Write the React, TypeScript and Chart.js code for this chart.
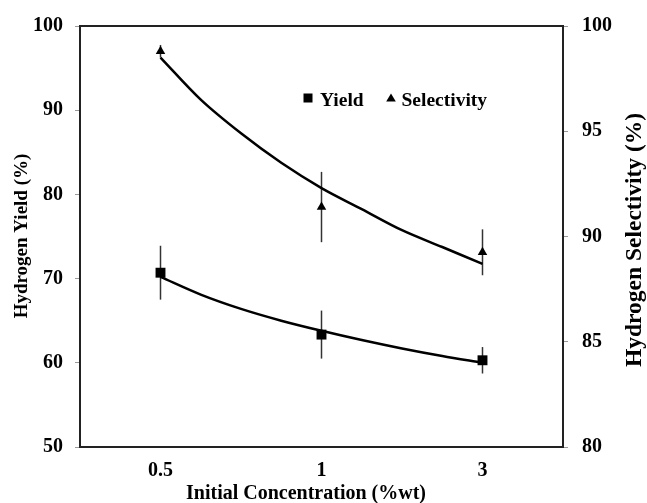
import React, { useEffect, useRef } from 'react';
import { Chart, registerables } from 'chart.js';

Chart.register(...registerables);

// ---- data ----
const xLabels = ['0.5', '1', '3'];
const xIndex = [1, 2, 3];
const yieldValues = [70.7, 63.35, 60.3];
const yieldErrors = [3.2, 2.85, 1.57];
const selectivityValues = [98.8, 91.4, 89.25];
const selectivityErrors = [0.3, 1.67, 1.09];
// trend lines
const fitX = [1, 1.25, 1.5, 1.75, 2, 2.25, 2.5, 2.75, 3];
const yieldFit = [70.2, 68.1, 66.4, 65.0, 63.8, 62.7, 61.7, 60.8, 60.0];
const selectivityFit = [98.5, 96.5, 94.9, 93.5, 92.3, 91.3, 90.3, 89.5, 88.7];
const yLeftTicks = [50, 60, 70, 80, 90, 100];
const yRightTicks = [80, 85, 90, 95, 100];
const xTitle = 'Initial Concentration (%wt)';
const yLeftTitle = 'Hydrogen Yield (%)';
const yRightTitle = 'Hydrogen Selectivity (%)';

const FONT = '"Liberation Serif", "Times New Roman", serif';

export default function App() {
  const ref = useRef<HTMLCanvasElement>(null);

  useEffect(() => {
    if (!ref.current) return;

    const errorBars = {
      id: 'errorBars',
      beforeDatasetsDraw(chart: any) {
        const ctx = chart.ctx;
        const xs = chart.scales.x;
        ctx.save();
        ctx.strokeStyle = '#333';
        ctx.lineWidth = 1.5;
        const draw = (vals: number[], errs: number[], scale: any) => {
          vals.forEach((v, i) => {
            const px = xs.getPixelForValue(xIndex[i]);
            ctx.beginPath();
            ctx.moveTo(px, scale.getPixelForValue(v + errs[i]));
            ctx.lineTo(px, scale.getPixelForValue(v - errs[i]));
            ctx.stroke();
          });
        };
        draw(yieldValues, yieldErrors, chart.scales.y);
        draw(selectivityValues, selectivityErrors, chart.scales.y1);
        ctx.restore();
      },
    };

    const decor = {
      id: 'decor',
      afterDraw(chart: any) {
        const ctx = chart.ctx;
        const a = chart.chartArea;
        ctx.save();
        // frame top line
        ctx.strokeStyle = '#222';
        ctx.lineWidth = 2;
        ctx.beginPath();
        ctx.moveTo(a.left, a.top);
        ctx.lineTo(a.right, a.top);
        ctx.stroke();

        ctx.fillStyle = '#000';
        ctx.textAlign = 'center';
        ctx.textBaseline = 'middle';
        // x title
        ctx.font = `bold 20px ${FONT}`;
        ctx.fillText(xTitle, a.left + 226, a.bottom + 47);
        // left title
        ctx.save();
        ctx.translate(a.left - 58, a.top + 210);
        ctx.rotate(-Math.PI / 2);
        ctx.font = `bold 19px ${FONT}`;
        ctx.fillText(yLeftTitle, 0, 0);
        ctx.restore();
        // right title
        ctx.save();
        ctx.translate(a.right + 72, a.top + 214);
        ctx.rotate(-Math.PI / 2);
        ctx.font = `bold 23.5px ${FONT}`;
        ctx.fillText(yRightTitle, 0, 0);
        ctx.restore();

        // legend
        ctx.font = `bold 19.5px ${FONT}`;
        ctx.textAlign = 'left';
        ctx.textBaseline = 'alphabetic';
        const ly = a.top + 72;
        let lx = a.left + 228;
        ctx.fillRect(lx - 4.5, ly - 4.5, 9, 9);
        ctx.fillText(chart.data.datasets[0].label, lx + 12, ly + 7.5);
        lx = a.left + 311;
        ctx.beginPath();
        ctx.moveTo(lx, ly - 4.5);
        ctx.lineTo(lx + 4.8, ly + 3.5);
        ctx.lineTo(lx - 4.8, ly + 3.5);
        ctx.closePath();
        ctx.fill();
        ctx.fillText(chart.data.datasets[1].label, lx + 10.5, ly + 7.5);
        ctx.restore();
      },
    };

    const tickFont = { family: FONT, size: 20, weight: 'bold' as const };

    const chart = new Chart(ref.current, {
      type: 'line',
      data: {
        datasets: [
          {
            label: 'Yield',
            data: xIndex.map((x, i) => ({ x, y: yieldValues[i] })),
            yAxisID: 'y',
            showLine: false,
            pointStyle: 'rect',
            pointRadius: 7,
            backgroundColor: '#000',
            borderColor: '#000',
            borderWidth: 0,
            order: 0,
          },
          {
            label: 'Selectivity',
            data: xIndex.map((x, i) => ({ x, y: selectivityValues[i] })),
            yAxisID: 'y1',
            showLine: false,
            pointStyle: 'triangle',
            pointRadius: 5.5,
            backgroundColor: '#000',
            borderColor: '#000',
            borderWidth: 0,
            order: 0,
          },
          {
            label: 'Yield fit',
            data: fitX.map((x, i) => ({ x, y: yieldFit[i] })),
            yAxisID: 'y',
            pointRadius: 0,
            borderColor: '#000',
            borderWidth: 2.5,
            cubicInterpolationMode: 'monotone',
            fill: false,
            order: 1,
          },
          {
            label: 'Selectivity fit',
            data: fitX.map((x, i) => ({ x, y: selectivityFit[i] })),
            yAxisID: 'y1',
            pointRadius: 0,
            borderColor: '#000',
            borderWidth: 2.5,
            cubicInterpolationMode: 'monotone',
            fill: false,
            order: 1,
          },
        ],
      },
      options: {
        responsive: false,
        animation: false,
        devicePixelRatio: 1,
        layout: { padding: { top: 21, left: 0, right: 0, bottom: 0 } },
        plugins: { legend: { display: false }, tooltip: { enabled: false } },
        scales: {
          x: {
            type: 'linear',
            position: 'bottom',
            min: 0.5,
            max: 3.5,
            afterBuildTicks: (s: any) => {
              s.ticks = xIndex.map((v) => ({ value: v }));
            },
            afterFit: (s: any) => {
              s.height = 56;
            },
            ticks: {
              font: tickFont,
              color: '#000',
              padding: 12,
              maxRotation: 0,
              callback: (v: any) => {
                const i = xIndex.indexOf(Number(v));
                return i >= 0 ? xLabels[i] : '';
              },
            },
            grid: { display: false, drawTicks: false },
            border: { display: true, color: '#222', width: 2 },
          },
          y: {
            type: 'linear',
            position: 'left',
            min: 50,
            max: 100,
            afterBuildTicks: (s: any) => {
              s.ticks = yLeftTicks.map((v) => ({ value: v }));
            },
            afterFit: (s: any) => {
              s.width = 80;
            },
            ticks: { font: tickFont, color: '#000', padding: 12 },
            grid: { drawOnChartArea: false, drawTicks: true, tickLength: 5, color: '#999' },
            border: { display: true, color: '#222', width: 2 },
          },
          y1: {
            type: 'linear',
            position: 'right',
            min: 80,
            max: 100,
            afterBuildTicks: (s: any) => {
              s.ticks = yRightTicks.map((v) => ({ value: v }));
            },
            afterFit: (s: any) => {
              s.width = 84;
            },
            ticks: { font: tickFont, color: '#000', padding: 14 },
            grid: { drawOnChartArea: false, drawTicks: true, tickLength: 5, color: '#999' },
            border: { display: true, color: '#222', width: 2 },
          },
        },
      },
      plugins: [errorBars, decor],
    } as any);

    return () => chart.destroy();
  }, []);

  return (
    <div style={{ position: 'fixed', left: 0, top: 0, width: 647, height: 503, background: '#fff' }}>
      <canvas ref={ref} width={647} height={503} style={{ display: 'block', width: 647, height: 503 }} />
    </div>
  );
}
